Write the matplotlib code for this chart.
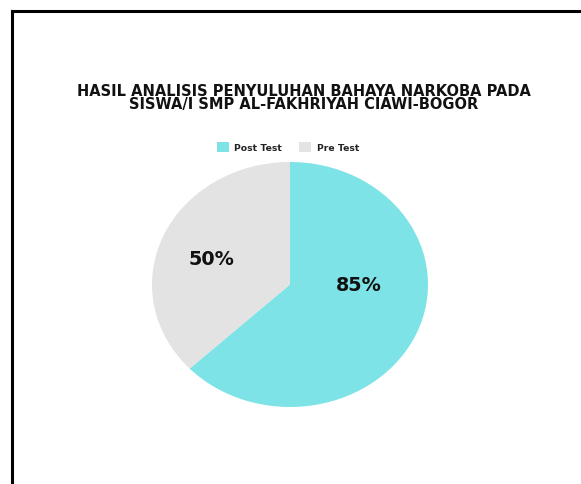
import matplotlib.pyplot as plt
from matplotlib.lines import Line2D
from matplotlib.patches import Patch

# Data
labels = ['Post Test', 'Pre Test']
values = [85, 50]
value_labels = ['85%', '50%']
colors = ['#7DE3E6', '#E3E3E3']

title = 'HASIL ANALISIS PENYULUHAN BAHAYA NARKOBA PADA\nSISWA/I SMP AL-FAKHRIYAH CIAWI-BOGOR'

W, H = 581, 485
fig = plt.figure(figsize=(W / 100, H / 100), dpi=100)
fig.patch.set_facecolor('white')

# frame lines (screenshot border: top and left)
fig.add_artist(Line2D([12 / W, 1], [1 - 12 / H, 1 - 12 / H], color='black', lw=2.2))
fig.add_artist(Line2D([12 / W, 12 / W], [0, 1 - 12 / H], color='black', lw=2.2))

# Title (one text block, tight line spacing)
fig.text(304 / W, 1 - 98 / H, title, ha='center', va='center',
         fontsize=10.5, fontweight='bold', color='#111111', linespacing=0.84)

# Pie (slightly stretched horizontally like the reference)
ax = fig.add_axes([152 / W, 1 - 408 / H, 276 / W, 245 / H])
wedges, _ = ax.pie(values, colors=colors, startangle=90, counterclock=False,
                   wedgeprops=dict(linewidth=0))
ax.set_aspect('auto')
ax.set_xlim(-1, 1)
ax.set_ylim(-1, 1)

# value labels inside the slices
label_pos = [(0.50, 0.0), (-0.57, 0.21)]
for (x, y), txt in zip(label_pos, value_labels):
    ax.text(x, y, txt, ha='center', va='center', fontsize=13.8,
            fontweight='bold', color='#111111')

# Legend
handles = [Patch(facecolor=c, edgecolor='none') for c in colors]
fig.legend(handles, labels, loc='center', bbox_to_anchor=(288 / W, 1 - 148 / H),
           ncol=2, frameon=False, prop=dict(size=6.7, weight='bold'),
           handlelength=1.3, handleheight=1.3, handletextpad=0.6,
           columnspacing=1.8, labelcolor='#222222')

plt.savefig('out.png', dpi=100, facecolor='white')
